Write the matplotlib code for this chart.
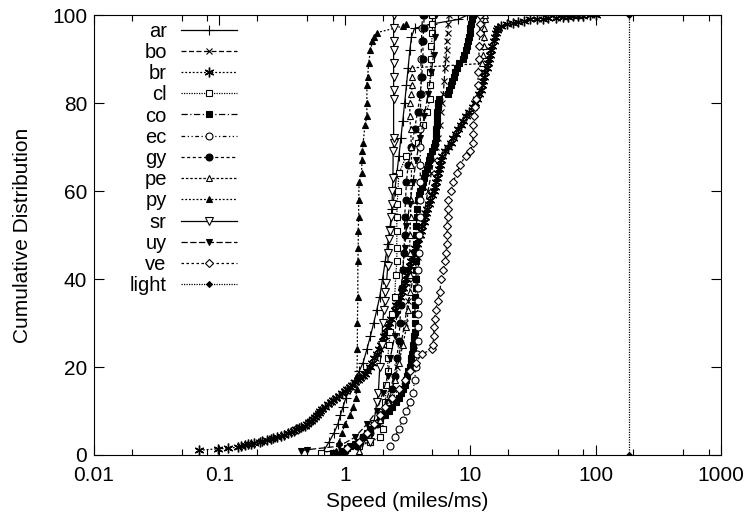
import matplotlib
matplotlib.use("Agg")
import matplotlib.pyplot as plt
from matplotlib.ticker import FixedLocator, NullFormatter

plt.rcParams['font.family'] = ['Liberation Sans', 'DejaVu Sans']

# Данные: (скорость, процент) для каждой серии
ar_x = [0.68, 0.75, 0.82, 0.88, 0.92, 0.97, 1.02, 1.1, 1.2, 1.3, 1.4, 1.5, 1.6, 1.7, 1.8, 1.9,
        2.0, 2.1, 2.2, 2.3, 2.4, 2.5, 2.6, 2.7, 2.8, 2.9, 3.0, 3.1, 3.2, 3.3, 3.4, 3.6, 5.0, 8.0, 9.5]
ar_y = [1, 3, 5, 7, 9, 11, 13, 15, 17, 19, 21, 24, 27, 30, 33, 36,
        40, 44, 48, 52, 56, 60, 64, 68, 72, 76, 80, 84, 88, 92, 95, 97, 98, 99, 100]

bo_x = [1.3, 1.5, 1.7, 2.0, 2.3, 2.6, 2.8, 3.0, 3.2, 3.5, 3.8, 4.0, 4.3, 4.6, 4.9, 5.1, 5.3,
        5.5, 5.7, 5.8, 6.0, 6.1, 6.2, 6.3, 6.4, 6.5, 6.5, 6.6, 6.7, 6.8]
bo_y = [1, 4, 7, 10, 15, 20, 25, 30, 35, 40, 45, 50, 55, 60, 64, 67, 70,
        72, 75, 78, 80, 82, 85, 88, 90, 92, 94, 96, 98, 100]

br_x = [0.069, 0.097, 0.117,
        0.14, 0.15, 0.16, 0.17, 0.18, 0.19, 0.21, 0.22, 0.24, 0.26, 0.27, 0.29, 0.31, 0.33,
        0.35, 0.37, 0.39, 0.41, 0.43, 0.45, 0.48, 0.50, 0.52, 0.54, 0.56, 0.58, 0.60, 0.62, 0.63,
        0.66, 0.70, 0.74, 0.77, 0.80, 0.85, 0.90, 0.95, 1.0, 1.05, 1.1, 1.15, 1.2, 1.27, 1.33,
        1.4, 1.45, 1.5,
        1.58, 1.65, 1.72, 1.8, 1.87, 1.93, 2.0, 2.07, 2.14, 2.2, 2.27, 2.35, 2.42, 2.5, 2.58,
        2.66, 2.75, 2.85, 2.92,
        3.0, 3.08, 3.15, 3.22, 3.3, 3.38, 3.46, 3.55, 3.65, 3.75, 3.85, 3.95, 4.05, 4.15, 4.25,
        4.35, 4.45, 4.55, 4.68, 4.8, 4.95, 5.1,
        5.2, 5.3, 5.4, 5.5, 5.6, 5.7, 5.8, 6.0, 6.3, 6.6, 7.0, 7.3, 7.7, 8.0, 8.4, 8.7,
        9.2, 9.8, 10.5, 11.0, 11.4, 11.8, 12.1, 12.4, 12.6, 12.9, 13.2, 13.5, 13.8, 14.1, 14.4,
        14.7, 15.0, 15.4, 15.7, 16.0,
        16.3, 16.8, 17.5, 19.6, 22, 24, 27, 30, 34, 38, 42, 48, 55, 60, 66, 72, 80, 90, 100]
br_y = [1.1, 1.4, 1.5,
        1.8, 2.0, 2.2, 2.4, 2.6, 2.8, 3.0, 3.2, 3.4, 3.6, 3.8, 4.0, 4.3, 4.6,
        4.9, 5.2, 5.5, 5.8, 6.1, 6.4, 6.7, 7.0, 7.4, 7.8, 8.2, 8.6, 9.0, 9.5, 10.0,
        10.5, 11, 11.5, 12, 12.5, 13, 13.5, 14, 14.5, 15, 15.5, 16, 16.5, 17, 17.5,
        18, 18.5, 19,
        20, 21, 22, 23, 24, 25, 26, 27, 28, 29, 30, 31, 32, 33, 34,
        35, 36, 37, 38,
        39, 40, 41, 42, 43, 44, 45, 46, 47, 48, 49, 50, 51, 52, 53,
        54, 55, 56, 57, 58, 59, 60,
        61, 62, 63, 64, 65, 66, 67, 68, 69, 70, 71, 72, 73, 74, 75, 76,
        77, 78, 79, 80, 81, 82, 83, 84, 85, 86, 87, 88, 89, 90, 91,
        92, 93, 94, 95, 96,
        96.6, 97, 97.5, 98, 98.2, 98.5, 98.7, 99, 99.1, 99.2, 99.3, 99.4, 99.5, 99.6, 99.7,
        99.8, 99.9, 99.95, 100]

cl_x = [0.65, 1.3, 1.6, 1.9, 2.0, 2.05, 2.1, 2.15, 2.2, 2.2, 2.25, 2.3, 2.4, 2.5, 2.55, 2.6,
        2.6, 2.6, 2.6, 2.62, 2.65, 2.7, 3.1, 3.8, 4.2, 4.5, 4.8, 4.8, 4.8, 4.9, 4.9, 5.0, 5.0, 5.0]
cl_y = [0.5, 2, 3, 4, 6, 9, 12, 16, 19, 22, 25, 28, 32, 36, 41, 44,
        47, 51, 54, 57, 60, 64, 68, 71, 75, 78, 81, 84, 87, 90, 93, 96, 98, 100]

co_x = [0.8, 0.95, 1.05, 1.1, 1.2, 1.3, 1.4, 1.5, 1.6, 1.7, 1.9, 2.1, 2.25, 2.4, 2.55, 2.7,
        2.8, 2.9, 3.0, 3.1, 3.15, 3.2, 3.3, 3.35, 3.4, 3.45, 3.5, 3.5, 3.55, 3.55, 3.6, 3.6,
        3.6, 3.65, 3.65, 3.7, 3.7, 3.7, 3.7, 3.7, 3.7, 3.72, 3.72, 3.75, 3.75, 3.8, 3.9, 4.0,
        4.1, 4.2, 4.3, 4.4, 4.5, 4.6, 4.7, 4.8, 4.95, 5.1, 5.2, 5.3, 5.35, 5.35, 5.4, 5.4,
        5.45, 5.45, 5.5, 5.5, 5.6, 6.6, 6.8, 7.0, 7.2, 7.4, 7.6, 7.8, 8.2, 8.8, 9.0, 9.2, 9.4,
        9.6, 9.8, 9.9, 10.0, 10.2, 10.3, 10.5]
co_y = [0.5, 1, 1.5, 2, 2.5, 3, 4, 5, 6, 7, 8, 9, 10, 11, 12, 13,
        14, 15, 16, 17, 18, 19, 20, 21, 22, 23, 24, 25, 26, 27, 28, 30,
        32, 34, 36, 38, 40, 42, 44, 46, 48, 50, 52, 54, 56, 58, 59, 60,
        61, 62, 63, 64, 65, 66, 67, 68, 69, 70, 71, 72, 73, 74, 75, 76,
        77, 78, 79, 80, 81, 82, 83, 84, 85, 86, 87, 88, 89, 90, 91, 92, 93,
        94, 95, 96, 97, 98, 99, 100]

ec_x = [2.3, 2.5, 2.7, 2.9, 3.1, 3.3, 3.5, 3.6, 3.7, 3.75, 3.8, 3.8, 3.8, 3.8, 3.8, 3.85,
        3.9, 3.9, 3.95, 3.95, 4.0, 4.0, 4.0, 4.0, 4.0, 4.05, 4.05, 4.05, 4.1, 4.1, 4.2]
ec_y = [2, 4, 6, 8, 10, 12, 14, 17, 20, 23, 26, 29, 32, 35, 38, 42,
        46, 50, 54, 58, 62, 66, 70, 74, 78, 82, 86, 90, 94, 97, 100]

gy_x = [1.0, 1.25, 1.4, 1.6, 1.8, 2.0, 2.2, 2.4, 2.5, 2.6, 2.7, 2.75, 2.8, 2.85, 2.9, 2.95,
        3.0, 3.0, 3.05, 3.1, 3.2, 3.4, 3.6, 3.8, 4.0, 4.1, 4.2, 4.2, 4.25, 4.3]
gy_y = [1, 2, 4, 5, 7, 9, 12, 15, 18, 22, 26, 30, 34, 38, 42, 46,
        50, 54, 58, 62, 66, 70, 74, 78, 82, 86, 90, 94, 97, 100]

pe_x = [1.3, 1.6, 1.9, 2.2, 2.5, 2.7, 2.9, 3.1, 3.2, 3.3, 3.3, 3.3, 3.3, 3.35, 3.35, 3.4,
        3.4, 3.4, 3.35, 3.3, 3.3, 3.4, 3.45, 3.45, 3.45, 12.5, 12.7, 12.8, 13.0, 13.0, 13.2, 13.2]
pe_y = [1, 4, 8, 12, 17, 21, 25, 29, 33, 37, 41, 46, 50, 54, 58, 62,
        66, 70, 74, 77, 80, 82, 84, 86, 88, 89, 91, 93, 95, 97, 99, 100]

py_x = [0.85, 0.9, 0.95, 1.0, 1.1, 1.17, 1.22, 1.25, 1.25, 1.26, 1.26, 1.27, 1.27, 1.28, 1.28,
        1.29, 1.29, 1.3, 1.36, 1.37, 1.38, 1.4, 1.45, 1.5, 1.5, 1.5, 1.52, 1.55, 1.6, 1.66,
        1.7, 1.8, 2.9, 3.1]
py_y = [1, 3, 5, 7, 9, 11, 13, 15, 18, 24, 30, 36, 44, 47, 51,
        54, 58, 62, 64, 67, 69, 71, 75, 77, 80, 84, 86, 89, 92, 94,
        95, 96, 97.5, 98]

sr_x = [1.6, 1.7, 1.8, 1.85, 1.9, 1.98, 2.0, 2.05, 2.08, 2.1, 2.15, 2.2, 2.22, 2.25, 2.3,
        2.35, 2.38, 2.4, 2.42, 2.43, 2.45, 2.45, 2.45, 2.45, 2.45, 2.45, 2.45, 2.45, 2.45, 2.45]
sr_y = [3, 7, 12, 14, 20, 25, 30, 33, 35, 37, 39, 43, 46, 49, 51,
        54, 57, 60, 63, 69, 71, 72, 81, 83, 86, 89, 92, 94, 97, 100]

uy_x = [0.45, 0.5, 0.9, 1.2, 1.5, 1.8, 2.0, 2.2, 2.3, 2.5, 2.6, 2.8, 2.9, 3.0, 3.1, 3.3,
        3.5, 3.7, 4.0, 4.3, 4.6, 4.9, 5.1, 5.2, 5.3]
uy_y = [1, 1.2, 2, 4, 7, 10, 14, 18, 22, 27, 32, 37, 42, 47, 52, 57,
        62, 67, 72, 77, 82, 87, 91, 95, 100]

ve_x = [1.05, 1.3, 1.5, 1.7, 1.9, 2.1, 2.4, 2.7, 3.0, 3.3, 3.7, 4.1, 5.0, 5.05, 5.1, 5.15,
        5.2, 5.3, 5.5, 5.7, 5.9, 6.1, 6.3, 6.4, 6.5, 6.5, 6.5, 6.6, 6.6, 6.7, 7.0, 7.3, 7.8,
        8.3, 9.2, 10, 10.5, 10.5, 10.6, 10.8, 11, 11.2, 11.5, 11.6, 11.7, 11.8, 11.9, 12, 12]
ve_y = [1.5, 3, 5, 7, 9, 11, 13, 15, 17, 19, 21, 23, 24, 25, 27, 29,
        31, 33, 35, 37, 40, 42, 44, 46, 48, 50, 52, 54, 56, 58, 60, 62, 64,
        66, 68, 69, 71, 73, 75, 77, 79, 81, 84, 87, 90, 93, 96, 98, 100]

light_x = [186, 186]
light_y = [0, 100]

series = [
    ("ar", ar_x, ar_y, dict(marker='+', ls='-', ms=7, mfc='none')),
    ("bo", bo_x, bo_y, dict(marker='x', ls=(0, (4, 2)), ms=5, mfc='none')),
    ("br", br_x, br_y, dict(marker=(6, 2, 0), ls=(0, (1.5, 1.5)), ms=7, mfc='none')),
    ("cl", cl_x, cl_y, dict(marker='s', ls=(0, (1, 1)), ms=5, mfc='white')),
    ("co", co_x, co_y, dict(marker='s', ls=(0, (5, 2, 1, 2)), ms=5, mfc='black')),
    ("ec", ec_x, ec_y, dict(marker='o', ls=(0, (3, 2, 1, 2, 1, 2)), ms=5, mfc='white')),
    ("gy", gy_x, gy_y, dict(marker='o', ls=(0, (2.5, 2)), ms=5, mfc='black')),
    ("pe", pe_x, pe_y, dict(marker='^', ls=(0, (2, 1.5)), ms=5, mfc='white')),
    ("py", py_x, py_y, dict(marker='^', ls=(0, (1.5, 1.5)), ms=5, mfc='black')),
    ("sr", sr_x, sr_y, dict(marker='v', ls='-', ms=6, mfc='white')),
    ("uy", uy_x, uy_y, dict(marker='v', ls=(0, (5, 2)), ms=5, mfc='black')),
    ("ve", ve_x, ve_y, dict(marker='D', ls=(0, (2, 2)), ms=4, mfc='white')),
    ("light", light_x, light_y, dict(marker='D', ls=(0, (1, 1)), ms=3, mfc='black')),
]

fig = plt.figure(figsize=(7.46, 5.2), dpi=100)
ax = fig.add_axes([0.126, 0.125, 0.8405, 0.846])

for name, xs, ys, st in series:
    mew = 1.0 if name == 'br' else 0.8
    ax.plot(xs, ys, color='black', lw=0.9, mec='black', mew=mew, label=name, **st)

ax.set_xscale('log')
ax.set_xlim(0.01, 1000)
ax.set_ylim(0, 100)
ax.set_xticks([0.01, 0.1, 1, 10, 100, 1000])
ax.set_xticklabels(['0.01', '0.1', '1', '10', '100', '1000'])
ax.xaxis.set_minor_locator(FixedLocator([0.02, 0.05, 0.08, 0.2, 0.5, 0.8, 2, 5, 8,
                                         20, 50, 80, 200, 500, 800]))
ax.xaxis.set_minor_formatter(NullFormatter())
ax.set_yticks([0, 20, 40, 60, 80, 100])
ax.tick_params(which='both', direction='in', top=True, right=True, labelsize=15)
ax.tick_params(which='major', length=7, width=0.8)
ax.tick_params(which='minor', length=4, width=0.8)
ax.tick_params(axis='x', pad=8)
ax.tick_params(axis='y', pad=5)

ax.set_xlabel('Speed (miles/ms)', fontsize=15, labelpad=5)
ax.set_ylabel('Cumulative Distribution', fontsize=15, labelpad=14)

ax.legend(loc='upper left', bbox_to_anchor=(0.057, 0.985), frameon=False, markerfirst=False,
          fontsize=14.5, handlelength=2.8, handletextpad=0.7, labelspacing=0.11,
          borderaxespad=0, borderpad=0)

fig.savefig('out.png', dpi=100)
